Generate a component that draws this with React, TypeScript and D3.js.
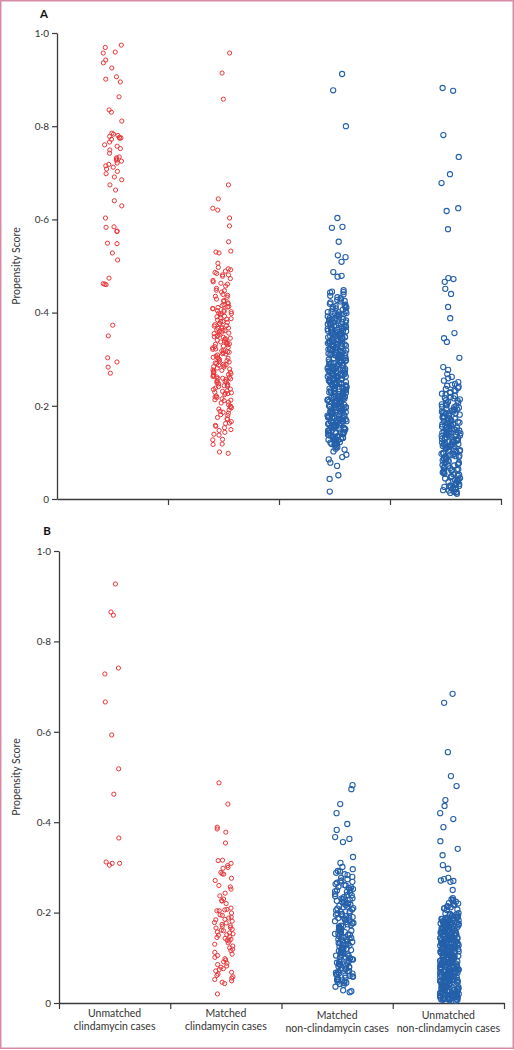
import React, { useEffect, useRef } from "react";
import * as d3 from "d3";

// ---------- data (propensity scores) ----------
const CATEGORY_LINES: string[][] = [
  ["Unmatched", "clindamycin cases"],
  ["Matched", "clindamycin cases"],
  ["Matched", "non-clindamycin cases"],
  ["Unmatched", "non-clindamycin cases"],
];
const Y_TICKS = [0, 0.2, 0.4, 0.6, 0.8, 1];
const Y_TICK_LABELS = ["0", "0·2", "0·4", "0·6", "0·8", "1·0"];
const PANEL_LABELS = ["A", "B"];
const Y_TITLE = "Propensity Score";

// Panel A
const A_UNMATCHED_CLINDA = [
  .974, .969, .959, .957, .942, .936, .925, .906, .901, .895, .863, .835, .830, .811,
  .785, .783, .780, .778, .776, .775, .774, .772, .766, .760, .757, .752, .749, .742,
  .734, .732, .730, .727, .725, .721, .718, .715, .712, .708, .703, .698, .691, .685,
  .674, .663, .640, .629, .603, .584, .583, .575, .574, .549, .548, .528, .513, .474,
  .462, .461, .460, .373, .350, .303, .294, .283, .270,
];
const A_MATCHED_CLINDA = [
  .957, .914, .858, .674, .644, .624, .620, .603, .586, .552, .532, .530, .528, .506,
  .497, .492, .489, .494, .486, .481, .478, .473, .469, .484, .463, .457, .452, .466,
  .448, .444, .439, .447, .435, .429, .426, .433, .421, .417, .413, .424, .409, .405,
  .411, .402, .398, .395, .391, .404, .387, .384, .381, .389, .377, .374, .369, .379,
  .366, .362, .358, .371, .355, .351, .347, .363, .344, .341, .337, .349, .334, .331,
  .328, .339, .325, .322, .318, .333, .314, .311, .307, .321, .304, .301, .297, .312,
  .294, .291, .287, .299, .284, .281, .277, .289, .274, .271, .267, .279, .264, .261,
  .257, .269, .254, .251, .247, .259, .244, .241, .236, .249, .232, .228, .224, .238,
  .219, .215, .211, .226, .206, .202, .197, .213, .193, .188, .184, .199, .179, .175,
  .171, .186, .166, .162, .158, .153, .149, .143, .137, .128, .117, .101, .098,
  .415, .398, .372, .356, .343, .327, .309, .296, .283, .272, .262, .253, .243, .231,
  .221, .408, .386, .361, .336, .316, .292, .276, .258, .235, .218, .392, .367, .345,
  .302, .266, .246, .229, .419, .376, .353, .324, .286, .263, .252, .208, .191, .172,
  .156, .139, .118,
  .481, .461, .437, .412, .399, .381, .366, .348, .332, .319, .303, .288, .273, .259,
  .242, .227, .212, .196, .181, .163, .147, .127, .402, .359, .315,
];
const A_MATCHED_NONCLINDA = [
  .912, .877, .800, .603, .584, .582, .552, .523, .519, .509, .487, .479, .477, .448,
  .445, .444,
  .439, .431, .417, .408, .396, .381, .374, .360, .349, .340, .327, .318, .302, .296,
  .281, .270, .262, .248, .239, .226, .215, .203, .191, .177, .168, .152, .141, .129, .113,
  .436, .422, .411, .399, .388, .371, .363, .352, .337, .329, .314, .306, .291, .283,
  .268, .257, .244, .236, .221, .212, .197, .188, .173, .161, .149, .136, .122, .108,
  .427, .414, .403, .392, .379, .366, .357, .343, .331, .322, .309, .298, .287, .274,
  .263, .251, .240, .229, .217, .206, .194, .183, .171, .158, .145, .132, .119, .102,
  .443, .425, .412, .401, .386, .377, .368, .354, .345, .333, .321, .312, .299, .288,
  .277, .265, .253, .242, .231, .219, .208, .199, .185, .176, .163, .151, .138, .126, .115,
  .419, .406, .394, .383, .372, .361, .350, .339, .325, .316, .304, .293, .279, .271,
  .259, .246, .234, .223, .211, .202, .189, .179, .166, .155, .143, .131, .118,
  .433, .415, .397, .385, .369, .358, .346, .335, .323, .311, .300, .289, .276, .264,
  .255, .243, .232, .220, .209, .196, .186, .174, .164, .153, .140, .127, .111,
  .409, .391, .376, .364, .353, .342, .330, .319, .308, .295, .285, .273, .261, .250,
  .238, .227, .216, .204, .193, .181, .170, .159, .147, .134, .121,
  .428, .402, .388, .373, .359, .347, .336, .326, .313, .303, .292, .280, .269, .258,
  .247, .236, .225, .213, .201, .190, .178, .167, .156, .144, .133,
  .393, .380, .365, .355, .344, .332, .320, .310, .297, .286, .275, .266, .254, .245,
  .233, .222, .210, .200, .187, .175, .165, .150, .137,
  .384, .370, .356, .338, .328, .315, .302, .290, .278, .267, .256, .241, .230, .218,
  .207, .195, .184, .172, .160, .146,
  .401, .387, .372, .361, .348, .334, .327, .314, .301, .289, .281, .268, .257, .244,
  .237, .224, .213, .198, .192, .181, .169, .158, .148, .132, .125,
  .396, .378, .366, .351, .343, .329, .318, .306, .294, .283, .272, .262, .249, .241,
  .228, .215, .206, .194, .183, .171, .162, .151, .139, .128,
  .412, .384, .362, .347, .331, .317, .303, .288, .276, .263, .251, .239, .226, .211,
  .203, .188, .177, .166, .154, .142, .130, .117,
  .424, .399, .375, .357, .339, .322, .309, .297, .284, .270, .259, .246, .235, .222,
  .209, .197, .186, .174, .163, .152, .143, .135, .121, .106,
  .095, .090, .085, .078, .071, .051, .043, .016,
];
const A_UNMATCHED_NONCLINDA = [
  .882, .876, .781, .734, .697, .678, .624, .618, .579, .474, .472, .466, .451, .440,
  .412, .388, .356, .345, .337, .303, .283, .277,
  .268, .259, .247, .238, .226, .219, .207, .196, .188, .179, .171, .162, .154, .146,
  .139, .131, .122, .114, .106, .097, .088, .076, .064, .052, .041, .029, .018,
  .262, .251, .241, .232, .221, .212, .203, .194, .185, .176, .167, .158, .150, .142,
  .135, .127, .118, .110, .101, .092, .082, .071, .059, .047, .035, .024, .013,
  .254, .243, .229, .216, .205, .198, .190, .181, .173, .165, .157, .149, .141, .133,
  .125, .117, .108, .099, .090, .079, .067, .056, .044, .032, .021,
  .236, .224, .211, .201, .192, .183, .175, .168, .160, .152, .144, .137, .129, .121,
  .113, .104, .094, .085, .073, .061, .049, .038, .026, .015,
  .228, .214, .200, .186, .177, .164, .156, .148, .140, .132, .124, .115, .107, .096,
  .086, .074, .062, .050, .039, .027,
  .193, .182, .170, .161, .153, .145, .136, .128, .119, .112, .103, .093, .081, .069,
  .057, .045, .033, .022,
  .208, .187, .174, .159, .143, .134, .126, .116, .109, .098, .087, .078, .066, .054,
  .042, .030, .016, .011,
  .245, .233, .217, .202, .191, .184, .172, .166, .155, .147, .138, .130, .121, .113,
  .102, .094, .083, .072, .061, .048, .036, .025, .019,
  .197, .178, .163, .151, .139, .127, .117, .105, .091, .077, .063, .053, .040, .028, .014,
];

// Panel B
const B_UNMATCHED_CLINDA = [
  .927, .865, .858, .741, .728, .666, .593, .518, .462, .365, .312, .309, .305, .309,
];
const B_MATCHED_CLINDA = [
  .487, .440, .389, .385, .378, .354,
  .316, .315, .309, .304, .300, .298, .289, .286, .285,
  .276, .271, .257, .252, .260, .243, .237, .230, .226, .226, .220, .210, .206, .207,
  .204, .204,
  .199, .195, .194, .190, .188, .185, .184, .181, .178, .177, .174, .171, .170, .167,
  .166, .163, .161, .160, .157, .155, .153, .151, .150, .147, .145, .143, .141, .139,
  .137, .133, .130, .126, .122, .119, .116, .112, .108, .105, .101, .098, .095, .091,
  .088, .085, .082, .079, .076, .074,
  .071, .068, .064, .061, .058, .055, .052, .049, .046, .043, .020,
];
const B_MATCHED_NONCLINDA = [
  .482, .473, .440, .420, .396, .383, .367, .363, .356, .323, .310, .301, .292, .285,
  .296, .288, .279, .271, .263, .254, .247, .238, .231, .223, .215, .207, .199, .192,
  .184, .176, .168, .161, .153, .146, .138, .130, .122, .115, .107, .099, .091, .083,
  .076, .068, .060, .053, .045,
  .283, .274, .266, .257, .250, .241, .234, .226, .218, .210, .202, .195, .187, .179,
  .171, .164, .156, .148, .141, .133, .125, .118, .110, .102, .094, .086, .079, .071,
  .063, .056, .048,
  .269, .260, .252, .244, .236, .228, .220, .212, .205, .197, .189, .181, .174, .166,
  .158, .151, .143, .135, .127, .120, .112, .104, .096, .089, .081, .073, .066, .058,
  .050, .042,
  .277, .261, .246, .232, .217, .203, .194, .185, .177, .169, .160, .151, .144, .136,
  .128, .117, .109, .101, .093, .084, .075, .067, .059, .051, .044,
  .239, .224, .209, .190, .172, .163, .154, .139, .131, .123, .113, .105, .097, .088,
  .080, .070, .062, .054, .047,
  .291, .268, .249, .229, .213, .198, .183, .170, .157, .145, .132, .119, .106, .092,
  .078, .065, .052, .040, .256, .221, .188, .162, .141, .114, .087, .061, .036,
  .028, .026, .024,
];
const B_UNMATCHED_NONCLINDA = [
  .684, .664, .555, .502, .480, .449, .436, .420, .407, .389, .358, .341, .327, .305,
  .297, .277, .274, .271, .268, .270, .250,
  .232, .229, .228, .225, .224, .221, .220, .218, .217, .214, .213, .212, .210, .209,
  .207, .206,
  .199, .194, .190, .185, .181, .176, .171, .167, .162, .158, .153, .149, .144, .140,
  .135, .131, .126, .122, .117, .113, .108, .104, .099, .095, .090, .086, .081, .077,
  .072, .068, .063, .059, .054, .050, .045, .041, .036, .032, .027, .023, .018, .014, .009,
  .197, .192, .187, .183, .178, .173, .169, .164, .160, .155, .151, .146, .142, .137,
  .133, .128, .124, .119, .115, .110, .106, .101, .097, .092, .088, .083, .079, .074,
  .070, .065, .061, .056, .052, .047, .043, .038, .034, .029, .025, .020, .016, .011, .007,
  .195, .188, .182, .177, .172, .166, .161, .156, .150, .145, .139, .134, .129, .123,
  .118, .112, .107, .102, .096, .091, .085, .080, .075, .069, .064, .058, .053, .048,
  .042, .037, .031, .026, .021, .015, .010,
  .191, .184, .179, .174, .168, .163, .157, .152, .147, .141, .136, .130, .125, .120,
  .114, .109, .103, .098, .093, .087, .082, .076, .071, .066, .060, .055, .049, .044,
  .039, .033, .028, .022, .017, .012, .006,
  .186, .175, .165, .154, .143, .132, .121, .111, .100, .089, .078, .067, .057, .046,
  .035, .024, .013,
  .181, .170, .159, .148, .138, .127, .116, .105, .094, .084, .073, .062, .051, .040,
  .030, .019, .008,
  .152, .143, .133, .124, .114, .105, .096, .086, .077, .067, .058, .048, .039, .029,
  .021, .012,
  .138, .119, .101, .083, .066, .049, .034, .018, .010,
  .198, .189, .183, .176, .169, .164, .157, .150, .144, .137, .131, .125, .118, .112,
  .106, .099, .093, .087, .080, .074, .068, .061, .055, .049, .043, .037, .030, .024,
  .017, .011, .005,
  .193, .186, .178, .172, .165, .159, .152, .146, .139, .133, .127, .120, .114, .108,
  .101, .095, .089, .082, .076, .070, .063, .057, .051, .044, .038, .032, .026, .019,
  .013, .007,
  .196, .185, .174, .163, .154, .141, .132, .121, .110, .100, .089, .079, .069, .058,
  .047, .037, .027, .016, .009,
  .188, .177, .167, .155, .146, .135, .124, .115, .103, .094, .083, .073, .062, .052,
  .041, .031, .020, .012,
  .180, .162, .148, .129, .111, .092, .075, .056, .039, .022, .015, .008,
];

const PANEL_A_GROUPS = [A_UNMATCHED_CLINDA, A_MATCHED_CLINDA, A_MATCHED_NONCLINDA, A_UNMATCHED_NONCLINDA];
const PANEL_B_GROUPS = [B_UNMATCHED_CLINDA, B_MATCHED_CLINDA, B_MATCHED_NONCLINDA, B_UNMATCHED_NONCLINDA];

// ---------- layout / style ----------
const W = 514;
const H = 1050;
const RED = "#e8373a";
const BLUE = "#2560aa";
const AXIS = "#3a3a3a";
const FONT = "Lato, 'Open Sans', sans-serif";

const PANELS = [
  { label: PANEL_LABELS[0], groups: PANEL_A_GROUPS, x0: 57, x1: 501, yTop: 33, yBot: 499,
    labelX: 44, labelY: 18, centerShift: [0, -1.5, 2.5, 5.5], showCats: false, leftTick: false },
  { label: PANEL_LABELS[1], groups: PANEL_B_GROUPS, x0: 59, x1: 504, yTop: 551, yBot: 1003,
    labelX: 47, labelY: 535, centerShift: [-0.6, -2, 7, 1], showCats: true, leftTick: true },
];
const JITTER = 9.5;
const LABEL_SHIFT = [0, 0, 2, 2];

// deterministic horizontal jitter for the strip layout
function jitter(i: number, g: number) {
  const s = Math.sin(i * 127.1 + g * 311.7 + 0.5) * 43758.5453;
  return (s - Math.floor(s)) * 2 - 1;
}

export default function App() {
  const ref = useRef<SVGSVGElement>(null);

  useEffect(() => {
    const svg = d3.select(ref.current);
    svg.selectAll("*").remove();

    svg.append("rect")
      .attr("x", 0.75).attr("y", 0.75)
      .attr("width", W - 1.5).attr("height", H - 2.5)
      .attr("fill", "#fff").attr("stroke", "#d98ba5").attr("stroke-width", 1.5);

    PANELS.forEach((p, pi) => {
      const g = svg.append("g");
      const y = d3.scaleLinear().domain([0, 1]).range([p.yBot, p.yTop]);
      const xBand = d3.scaleBand<number>().domain([0, 1, 2, 3]).range([p.x0, p.x1]).padding(0);
      const xLin = d3.scaleLinear().domain([0, 4]).range([p.x0, p.x1]);

      // y axis
      const yAxis = d3.axisLeft(y)
        .tickValues(Y_TICKS)
        .tickFormat((d, i) => Y_TICK_LABELS[i])
        .tickSize(5)
        .tickSizeOuter(0)
        .tickPadding(3);
      const ya = g.append("g").attr("transform", `translate(${p.x0},0)`).call(yAxis);
      ya.select(".domain").attr("stroke", AXIS).attr("stroke-width", 1.3);
      ya.selectAll(".tick line").attr("stroke", AXIS).attr("stroke-width", 1.2);
      ya.selectAll(".tick text")
        .attr("fill", "#333").style("font-family", FONT).style("font-size", "10px");

      // x axis
      const xAxis = d3.axisBottom(xLin)
        .tickValues(p.leftTick ? [0, 1, 2, 3, 4] : [1, 2, 3, 4])
        .tickFormat(() => "")
        .tickSize(6)
        .tickSizeOuter(0);
      const xa = g.append("g").attr("transform", `translate(0,${p.yBot})`).call(xAxis);
      xa.select(".domain").attr("stroke", AXIS).attr("stroke-width", 1.3);
      xa.selectAll(".tick line").attr("stroke", AXIS).attr("stroke-width", 1.2);

      // panel label
      g.append("text")
        .attr("x", p.labelX).attr("y", p.labelY)
        .attr("text-anchor", "middle")
        .style("font-family", FONT).style("font-weight", "bold").style("font-size", "11.5px")
        .attr("fill", "#111")
        .text(p.label);

      // y title
      g.append("text")
        .attr("transform", `translate(19.5,${(p.yTop + p.yBot) / 2}) rotate(-90)`)
        .attr("text-anchor", "middle")
        .style("font-family", FONT).style("font-size", "10.5px")
        .attr("fill", "#333")
        .text(Y_TITLE);

      // points
      p.groups.forEach((vals, gi) => {
        const color = gi < 2 ? RED : BLUE;
        const r = gi < 2 ? 2.1 : 2.6;
        const sw = gi < 2 ? 1 : 1.1;
        const cx = (xBand(gi) as number) + xBand.bandwidth() / 2 + p.centerShift[gi];
        g.append("g").selectAll("circle")
          .data(vals)
          .join("circle")
          .attr("cx", (d, i) => cx + jitter(i, gi + pi * 4) * JITTER)
          .attr("cy", (d) => y(d))
          .attr("r", r)
          .attr("fill", "none")
          .attr("stroke", color)
          .attr("stroke-width", sw);
      });

      // category labels
      if (p.showCats) {
        CATEGORY_LINES.forEach((lines, ci) => {
          const cx = (xBand(ci) as number) + xBand.bandwidth() / 2;
          const t = g.append("text")
            .attr("text-anchor", "middle")
            .style("font-family", FONT).style("font-size", "10.5px")
            .attr("fill", "#333");
          lines.forEach((ln, li) => {
            t.append("tspan")
              .attr("x", cx)
              .attr("y", p.yBot + 13.5 + LABEL_SHIFT[ci] + li * 13)
              .text(ln);
          });
        });
      }
    });
  }, []);

  return (
    <svg
      ref={ref}
      width={W}
      height={H}
      style={{ position: "absolute", left: 0, top: 0, background: "#fff" }}
    />
  );
}
